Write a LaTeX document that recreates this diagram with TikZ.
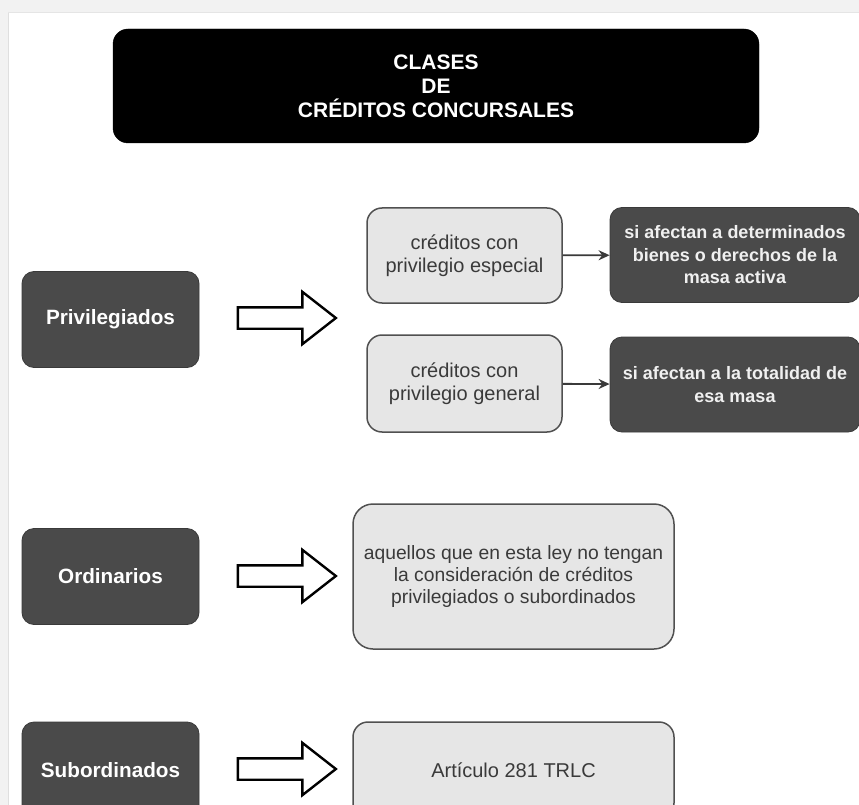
\documentclass[tikz,border=0pt]{standalone}
\usepackage{fontspec}
\setmainfont{Liberation Sans}
\usetikzlibrary{shapes.arrows,arrows.meta}
\definecolor{darkbox}{HTML}{4A4A4A}
\definecolor{darkedge}{HTML}{3A3A3A}
\definecolor{lightbox}{HTML}{E6E6E6}
\definecolor{lightedge}{HTML}{505050}
\definecolor{txtgray}{HTML}{3A3A3A}
\definecolor{bgband}{HTML}{F2F2F2}
\begin{document}
\begin{tikzpicture}[x=1pt,y=-1pt,
  titlebox/.style={fill=black,draw=black,rounded corners=15pt,minimum width=646pt,minimum height=114pt,inner sep=0pt,text=white,align=center,font=\fontsize{21}{24}\selectfont\bfseries},
  catbox/.style={fill=darkbox,draw=darkedge,line width=0.8pt,rounded corners=12pt,minimum width=177pt,minimum height=96pt,inner sep=0pt,text=white,align=center,font=\fontsize{20.7}{24}\selectfont\bfseries},
  descbox/.style={fill=darkbox,draw=darkedge,line width=0.8pt,rounded corners=12pt,minimum width=250pt,minimum height=95pt,inner sep=0pt,text=white!94!black,align=center,font=\fontsize{18}{22.5}\selectfont\bfseries},
  graybox/.style={fill=lightbox,draw=lightedge,line width=1.5pt,rounded corners=15pt,inner sep=0pt,text=txtgray,align=center,font=\fontsize{20}{22.5}\selectfont},
  blockarrow/.style={single arrow,draw=black,fill=white,line width=2.4pt,minimum height=98pt,inner xsep=0pt,inner ysep=9.5pt,text height=0pt,text depth=0pt,single arrow head extend=15.5pt,single arrow tip angle=76},
  smallarrow/.style={-{Stealth[length=11pt,width=10pt]},line width=1.8pt,draw=txtgray}
]
\useasboundingbox (0,0) rectangle (859,805);
\clip (0,0) rectangle (859,805);
\fill[white] (0,0) rectangle (859,805);
\fill[bgband] (0,0) rectangle (859,12);
\fill[bgband] (0,0) rectangle (8,805);
\draw[gray!25,line width=0.6pt] (8,12) -- (8,805);
\draw[gray!20,line width=0.6pt] (8,12) -- (859,12);

\node[titlebox] (title) at (436,86) {CLASES\\DE\\CRÉDITOS CONCURSALES};

\node[catbox] (priv) at (110.5,319.5) {Privilegiados};
\node[blockarrow] (arr1) at (280,318) {};
\node[graybox,minimum width=195pt,minimum height=95pt] (esp) at (464.5,255.5) {créditos con\\privilegio especial};
\node[graybox,minimum width=195pt,minimum height=97pt] (gen) at (464.5,383.5) {créditos con\\privilegio general};
\node[descbox] (espd) at (735,255) {si afectan a determinados\\bienes o derechos de la\\masa activa};
\node[descbox] (gend) at (735,384.5) {si afectan a la totalidad de\\esa masa};
\draw[smallarrow] (esp) -- (espd);
\draw[smallarrow] (gen) -- (gend);

\node[catbox] (ord) at (110.5,576.5) {Ordinarios};
\node[blockarrow] (arr2) at (280,576) {};
\node[graybox,rounded corners=20pt,minimum width=321pt,minimum height=145pt,font=\fontsize{19.3}{22}\selectfont] (ordr) at (513.5,576.5) {aquellos que en esta ley no tengan\\la consideración de créditos\\privilegiados o subordinados};

\node[catbox] (sub) at (110.5,770) {Subordinados};
\node[blockarrow] (arr3) at (280,769) {};
\node[graybox,minimum width=321pt,minimum height=96pt] (subr) at (513.5,770) {Artículo 281 TRLC};
\end{tikzpicture}
\end{document}
